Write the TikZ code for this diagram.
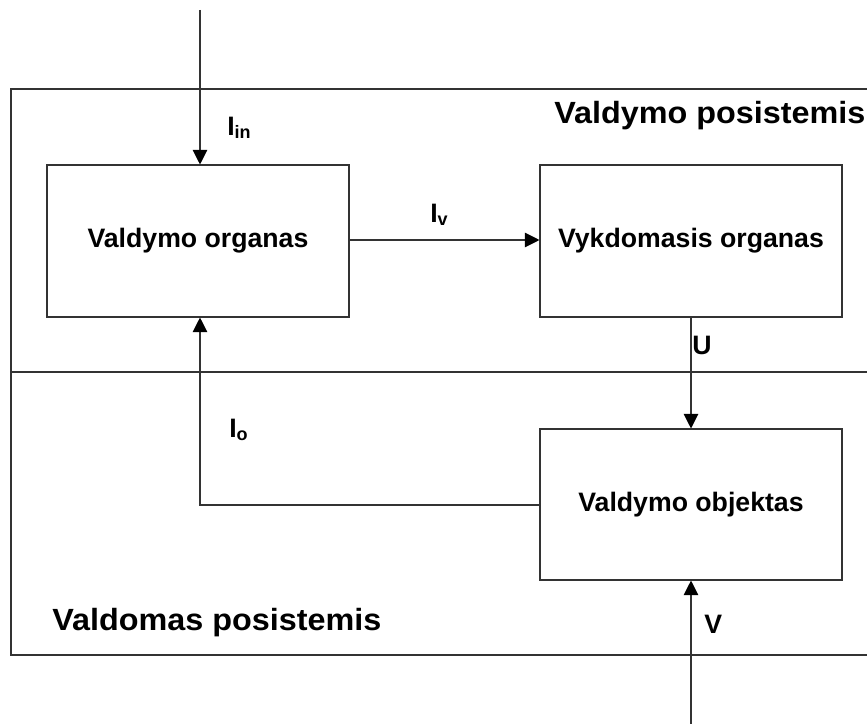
\documentclass[tikz,border=0pt]{standalone}
\usepackage{fontspec}
\setmainfont{Liberation Sans}
\usetikzlibrary{arrows.meta}
\tikzset{
  blk/.style={draw=black!80, line width=0.8pt, minimum width=302*0.75pt, minimum height=152*0.75pt, inner sep=0pt,
     font=\fontsize{20}{24}\selectfont\bfseries},
  lbl/.style={anchor=base west, inner sep=0pt, font=\fontsize{20}{24}\selectfont\bfseries},
  ttl/.style={anchor=base west, inner sep=0pt, font=\fontsize{23}{27}\selectfont\bfseries, xscale=1.055, transform shape},
  frame/.style={draw=black!80, line width=0.8pt},
  arr/.style={draw=black!80, line width=0.8pt, -{Triangle[width=11pt,length=11pt,color=black]}},
}
\newcommand{\subtxt}[1]{\raisebox{-2.3pt}{\fontsize{13.5}{13.5}\selectfont #1}}
\begin{document}
\begin{tikzpicture}[x=0.75pt,y=-0.75pt]
\useasboundingbox (0,0) rectangle (867,724);
% frame
\draw[frame] (870,89) -- (11,89) -- (11,655) -- (870,655);
\draw[frame] (11,372) -- (870,372);
% blocks
\node[blk] (vo) at (198,241) {Valdymo organas};
\node[blk] (vk) at (691,241) {Vykdomasis organas};
\node[blk, minimum height=151*0.75pt] (ob) at (691,504.5) {Valdymo objektas};
% coordinates
\coordinate (top) at (200,10);
\coordinate (bot) at (691,740);
\coordinate (ioc) at (200,505);
% connectors
\draw[arr] (top) -- (top |- vo.north);
\draw[arr] (vo.east |- 0,240) -- (vk.west |- 0,240);
\draw[arr] (vk.south) -- (ob.north);
\draw[arr] (ob.west |- ioc) -- (ioc) -- (ioc |- vo.south);
\draw[arr] (bot) -- (ob.south);
% labels
\node[lbl] (lin) at (227,135) {I\subtxt{in}};
\node[lbl] (lv) at (430,222) {I\subtxt{v}};
\node[lbl] (lo) at (229,437) {I\subtxt{o}};
\node[lbl] (lu) at (692,354) {U};
\node[lbl] (lvv) at (704,633) {V};
% titles
\node[ttl] (t1) at (554,123) {Valdymo posistemis};
\node[ttl] (t2) at (52,630) {Valdomas posistemis};
\end{tikzpicture}
\end{document}
